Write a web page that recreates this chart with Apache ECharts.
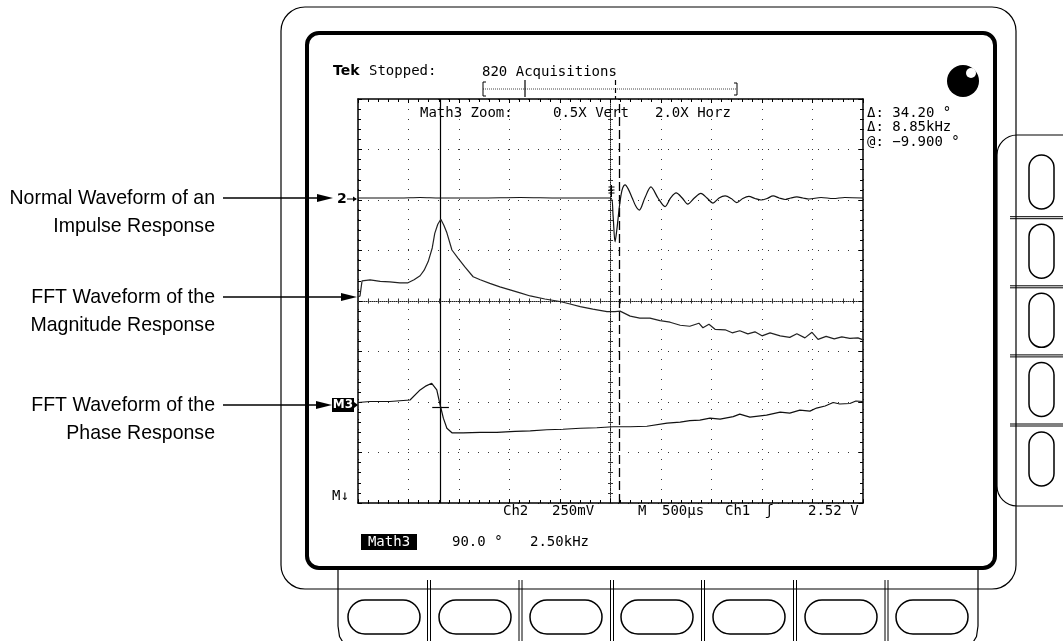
<!DOCTYPE html>
<html><head><meta charset="utf-8">
<script src="https://cdn.jsdelivr.net/npm/echarts@6/dist/echarts.min.js"></script>
<style>html,body{margin:0;padding:0;background:#fff}#c{width:1063px;height:641px}</style>
</head><body><div id="c"></div><script>
// ---- data (x in horizontal divisions 0..10, y in vertical divisions -4..4) ----
const ch2X = [0,0.83,1.23,1.62,2.42,3.21,4.00,4.79,5.01,5.05,5.09,5.13,5.18,5.23,5.29,5.35,5.43,5.50,5.57,5.68,5.80,5.94,6.08,6.19,6.30,6.42,6.53,6.66,6.79,6.91,7.03,7.15,7.27,7.39,7.50,7.62,7.74,7.86,7.98,8.10,8.22,8.34,8.46,8.57,8.69,8.81,8.93,9.17,9.41,9.64,10];
const ch2Y = [2.04,2.04,2.05,2.04,2.04,2.05,2.04,2.04,2.04,1.70,1.17,1.45,1.90,2.20,2.30,2.22,2.04,1.88,1.80,2.04,2.26,2.04,1.87,2.04,2.14,2.04,1.92,2.04,2.13,2.04,1.94,2.04,2.08,2.03,1.95,2.03,2.07,2.03,2.00,2.03,2.08,2.04,2.01,2.04,2.06,2.04,2.02,2.05,2.03,2.05,2.04];
const magX = [0,0.04,0.08,0.24,0.44,0.63,0.83,0.99,1.11,1.23,1.31,1.39,1.47,1.52,1.58,1.64,1.70,1.76,1.86,1.98,2.12,2.28,2.42,2.61,2.81,3.01,3.21,3.41,3.70,4.00,4.20,4.40,4.65,4.93,5.09,5.19,5.39,5.58,5.78,5.98,6.18,6.38,6.57,6.75,6.83,6.95,7.07,7.27,7.41,7.56,7.72,7.86,8.00,8.16,8.36,8.55,8.69,8.85,8.99,9.11,9.27,9.43,9.58,9.74,9.90,10];
const magY = [0.08,0.10,0.40,0.42,0.39,0.38,0.36,0.36,0.42,0.50,0.61,0.78,1.05,1.34,1.52,1.62,1.50,1.35,1.01,0.85,0.67,0.48,0.42,0.35,0.28,0.22,0.16,0.10,0.04,-0.01,-0.06,-0.11,-0.16,-0.21,-0.21,-0.20,-0.30,-0.34,-0.34,-0.39,-0.42,-0.48,-0.50,-0.44,-0.53,-0.46,-0.56,-0.57,-0.63,-0.59,-0.65,-0.61,-0.69,-0.63,-0.69,-0.72,-0.65,-0.73,-0.62,-0.76,-0.70,-0.75,-0.71,-0.74,-0.73,-0.77];
const phaseX = [0,0.24,0.63,1.03,1.23,1.35,1.46,1.56,1.62,1.69,1.76,1.86,2.08,2.42,2.75,3.11,3.41,3.74,4.06,4.40,4.73,5.05,5.39,5.72,6.12,6.38,6.57,6.77,6.97,7.17,7.43,7.56,7.76,8.09,8.36,8.55,8.75,8.95,9.08,9.25,9.41,9.54,9.74,9.86,10];
const phaseY = [-2.01,-1.99,-1.99,-1.96,-1.76,-1.68,-1.63,-1.76,-2.03,-2.32,-2.52,-2.61,-2.61,-2.60,-2.60,-2.58,-2.57,-2.55,-2.54,-2.52,-2.51,-2.49,-2.49,-2.48,-2.42,-2.40,-2.37,-2.36,-2.32,-2.34,-2.29,-2.24,-2.30,-2.26,-2.20,-2.22,-2.16,-2.18,-2.12,-2.08,-2.01,-2.04,-2.03,-1.98,-1.99];
const cursorSolidX = 1.63;
const cursorDashedX = 5.17;
const phaseMarker = {x0: 1.47, x1: 1.80, y: -2.105};
const annotations = [
  ["Normal Waveform of an", "Impulse Response"],
  ["FFT Waveform of the", "Magnitude Response"],
  ["FFT Waveform of the", "Phase Response"]
];
const headerTexts = {tek: "Tek", status: "Stopped:", acq: "820 Acquisitions"};
const zoomTexts = ["Math3 Zoom:", "0.5X Vert", "2.0X Horz"];
const readouts = ["Δ: 34.20 °", "Δ: 8.85kHz", "@: −9.900 °"];
const bottomTexts = ["Ch2", "250mV", "M", "500μs", "Ch1", "ʃ", "2.52 V"];
const mathTexts = ["Math3", "90.0 °", "2.50kHz"];

// ---- chart ----
const chart = echarts.init(document.getElementById('c'), null, {renderer: 'canvas'});
const MONO = '14px "DejaVu Sans Mono", "Liberation Mono", monospace';
const BLK = '#000';

function tx(x, y, s, o) {
  o = o || {};
  return {type: 'text', x: x, y: y, scaleX: o.sx || 1, z: 20,
    style: {text: s, font: o.font || MONO, fill: o.fill || BLK,
      textAlign: o.align || 'left', align: o.align || 'left',
      textVerticalAlign: 'middle', verticalAlign: 'middle'}};
}
function ln(x1, y1, x2, y2, o) {
  o = o || {};
  return {type: 'line', z: o.z || 5, shape: {x1, y1, x2, y2},
    style: {stroke: o.stroke || BLK, lineWidth: o.lw || 1, lineDash: o.dash || null}};
}
function rc(x, y, w, h, r, o) {
  o = o || {};
  return {type: 'rect', z: o.z || 5, shape: {x, y, width: w, height: h, r: r},
    style: {fill: o.fill || 'none', stroke: o.stroke === undefined ? BLK : o.stroke, lineWidth: o.lw || 1.2}};
}
function pl(points, o) {
  o = o || {};
  return {type: 'polyline', z: o.z || 6, shape: {points: points},
    style: {stroke: BLK, lineWidth: o.lw || 1, fill: 'none'}};
}

const g = [];
// frames
g.push(rc(281, 7, 735, 582, 24, {lw: 1.2}));
g.push(rc(997, 135, 110, 371, 20, {lw: 1.2}));
g.push(pl([[338, 569], [338, 626], [339.5, 636.5], [344, 644]], {lw: 1.2}));
g.push(pl([[978, 569], [978, 626], [976.5, 636.5], [972, 644]], {lw: 1.2}));
g.push(rc(307, 33, 688, 535, 12, {lw: 4, z: 7}));
// right separators and buttons
[216.7, 285.8, 354.9, 424].forEach(y => { g.push(ln(1010, y, 1063, y)); g.push(ln(1010, y + 2, 1063, y + 2)); });
[155, 224.2, 293.3, 362.5, 432].forEach(y => g.push(rc(1029, y, 25, 54, 12.5, {lw: 1.5})));
// bottom separators and buttons
[429, 520.5, 612, 703, 795, 886.5].forEach(x => { g.push(ln(x - 1.5, 580, x - 1.5, 641)); g.push(ln(x + 1.5, 580, x + 1.5, 641)); });
[384, 475, 566, 657, 749, 841, 932].forEach(cx => g.push(rc(cx - 36, 600, 72, 34, 17, {lw: 1.5})));
// knob
g.push({type: 'circle', z: 20, shape: {cx: 963, cy: 81, r: 16}, style: {fill: BLK}});
g.push({type: 'circle', z: 21, shape: {cx: 971, cy: 73, r: 5}, style: {fill: '#fff'}});

// header
g.push(tx(333, 71, headerTexts.tek, {font: 'bold 14px "DejaVu Sans", sans-serif'}));
g.push(tx(369, 71, headerTexts.status));
g.push(tx(482, 72, headerTexts.acq));
// record bracket
g.push(pl([[486, 82], [483, 82], [483, 96], [486, 96]]));
g.push(pl([[734, 83], [737, 83], [737, 95], [734, 95]]));
g.push(ln(483, 89, 737, 89, {dash: [1, 1], stroke: '#444'}));
g.push(ln(525, 80, 525, 97, {lw: 1.2}));
g.push(ln(615.5, 80, 615.5, 99, {lw: 1.2, dash: [5, 3]}));
// zoom texts inside graticule
g.push(tx(420, 113, zoomTexts[0]));
g.push(tx(553, 113, zoomTexts[1]));
g.push(tx(655, 113, zoomTexts[2]));
// readouts
readouts.forEach((s, i) => g.push(tx(867, 113 + i * 14.5, s)));
// bottom readouts
const bx = [503, 552, 638, 662, 725, 765, 808];
bottomTexts.forEach((s, i) => g.push(tx(bx[i], 511, s)));
g.push(rc(361, 534, 56, 16, 0, {fill: BLK, stroke: null, z: 20}));
g.push(tx(389, 542, mathTexts[0], {fill: '#fff', align: 'center'}));
g.push(tx(452, 542, mathTexts[1]));
g.push(tx(530, 542, mathTexts[2]));
// trigger marker on ch2
[187, 190, 193].forEach(y => g.push(ln(608.5, y, 614.5, y, {z: 20})));
g.push(ln(611.5, 185, 611.5, 197, {z: 20}));
// channel markers
g.push(tx(337, 199, '2', {font: 'bold 14px "DejaVu Sans", sans-serif'}));
g.push(ln(347, 199, 356, 199));
g.push({type: 'polygon', z: 20, shape: {points: [[357, 199], [353, 196.5], [353, 201.5]]}, style: {fill: BLK}});
g.push(rc(332, 398, 22, 14, 0, {fill: BLK, stroke: null, z: 20}));
g.push(tx(343, 405, 'M3', {fill: '#fff', align: 'center', font: 'bold 12px "DejaVu Sans", sans-serif'}));
g.push({type: 'polygon', z: 20, shape: {points: [[358, 405], [354, 402], [354, 408]]}, style: {fill: BLK}});
g.push(tx(332, 496, 'M↓'));
// annotations and arrows
const annY = [198, 297, 405];
const tipX = [333, 357, 332];
annotations.forEach((pair, i) => {
  g.push(tx(215, annY[i], pair[0], {align: 'right', font: '21px "Liberation Sans", Arial, sans-serif', sx: 0.93}));
  g.push(tx(215, annY[i] + 28, pair[1], {align: 'right', font: '21px "Liberation Sans", Arial, sans-serif', sx: 0.93}));
  g.push(ln(223, annY[i], tipX[i] - 10, annY[i], {lw: 1.5}));
  g.push({type: 'polygon', z: 20, shape: {points: [[tipX[i], annY[i]], [tipX[i] - 16, annY[i] - 4], [tipX[i] - 16, annY[i] + 4]]}, style: {fill: BLK}});
});

function xAx(extra) {
  return Object.assign({type: 'value', gridIndex: 0, min: 0, max: 10, interval: 1, z: 8,
    axisLabel: {show: false}, splitLine: {show: false}, minorSplitLine: {show: false}}, extra);
}
function yAx(extra) {
  return Object.assign({type: 'value', gridIndex: 0, min: -4, max: 4, interval: 1, z: 8,
    axisLabel: {show: false}, splitLine: {show: false}, minorSplitLine: {show: false}}, extra);
}
const border = {show: true, onZero: false, lineStyle: {color: BLK, width: 1.5}};
const tickIn = {show: true, inside: true, length: 4, lineStyle: {color: BLK, width: 1}};
const minorIn = {show: true, splitNumber: 5, length: 3, lineStyle: {color: BLK, width: 1}};
const centerLine = {show: true, onZero: false, lineStyle: {color: '#222', width: 1, type: [1, 1]}};
const cTickIn = {show: true, inside: true, length: 2.5, lineStyle: {color: '#333', width: 1}};
const cTickOut = {show: true, inside: false, length: 2.5, lineStyle: {color: '#333', width: 1}};
const cMinor = {show: true, splitNumber: 5, length: 2.5, lineStyle: {color: '#333', width: 1}};
const dots = {show: true, lineStyle: {color: '#333', width: 1, type: [1, 9]}};

const option = {
  animation: false,
  backgroundColor: '#fff',
  graphic: {elements: g},
  grid: {left: 358, top: 99, width: 505, height: 404, containLabel: false, outerBoundsMode: 'none', z: 10},
  xAxis: [
    xAx({position: 'bottom', axisLine: border, axisTick: tickIn, minorTick: minorIn, splitLine: dots}),
    xAx({position: 'top', axisLine: border, axisTick: tickIn, minorTick: minorIn}),
    xAx({position: 'bottom', offset: -202, axisLine: centerLine, axisTick: cTickIn, minorTick: cMinor}),
    xAx({position: 'bottom', offset: -202, axisLine: {show: false, onZero: false}, axisTick: cTickOut, minorTick: cMinor})
  ],
  yAxis: [
    yAx({position: 'left', axisLine: border, axisTick: tickIn, minorTick: minorIn, splitLine: dots}),
    yAx({position: 'right', axisLine: border, axisTick: tickIn, minorTick: minorIn}),
    yAx({position: 'left', offset: -252.5, axisLine: centerLine, axisTick: cTickIn, minorTick: cMinor}),
    yAx({position: 'left', offset: -252.5, axisLine: {show: false, onZero: false}, axisTick: cTickOut, minorTick: cMinor})
  ],
  series: [
    {type: 'line', name: 'Ch2', xAxisIndex: 0, yAxisIndex: 0, showSymbol: false, z: 12, smooth: 0.3,
      data: ch2X.map((x, i) => [x, ch2Y[i]]), lineStyle: {color: '#111', width: 1.2},
      markLine: {silent: true, symbol: ['none', 'none'], label: {show: false},
        data: [
          {xAxis: cursorSolidX, lineStyle: {color: BLK, width: 1.2, type: 'solid'}},
          {xAxis: cursorDashedX, lineStyle: {color: BLK, width: 1.3, type: [9, 4]}}
        ]}},
    {type: 'line', name: 'Magnitude', xAxisIndex: 0, yAxisIndex: 0, showSymbol: false, z: 12,
      data: magX.map((x, i) => [x, magY[i]]), lineStyle: {color: '#222', width: 1.2}},
    {type: 'line', name: 'Phase', xAxisIndex: 0, yAxisIndex: 0, showSymbol: false, z: 12,
      data: phaseX.map((x, i) => [x, phaseY[i]]), lineStyle: {color: '#111', width: 1.2},
      markLine: {silent: true, symbol: ['none', 'none'], label: {show: false},
        lineStyle: {color: BLK, width: 1.2, type: 'solid'},
        data: [[{coord: [phaseMarker.x0, phaseMarker.y]}, {coord: [phaseMarker.x1, phaseMarker.y]}]]}}
  ]
};
chart.setOption(option);
</script></body></html>
